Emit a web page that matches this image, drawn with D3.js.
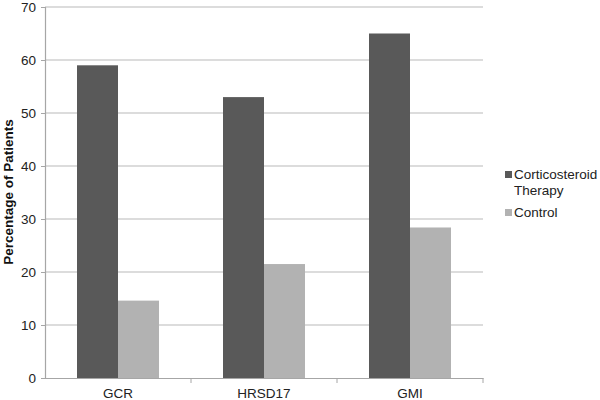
<!DOCTYPE html>
<html><head><meta charset="utf-8">
<script src="https://cdn.jsdelivr.net/npm/d3@7"></script>
<style>body{margin:0;background:#fff}text{font-family:"Liberation Sans",Arial,sans-serif}</style>
</head><body><svg id="c" width="600" height="400"></svg>
<script>
const categories = ["GCR", "HRSD17", "GMI"];
const seriesNames = ["Corticosteroid Therapy", "Control"];
const therapyValues = [59, 53, 65];
const controlValues = [14.6, 21.5, 28.4];
const yTicks = [0, 10, 20, 30, 40, 50, 60, 70];
const colors = ["#595959", "#b2b2b2"];

const svg = d3.select("#c");
const mLeft = 45, mRight = 483, mTop = 7, mBottom = 378;
const fs = 13.5;
const x0 = d3.scaleBand().domain(categories).range([mLeft, mRight]).padding(0);
const x1 = d3.scaleBand().domain([0, 1]).range([32, x0.bandwidth() - 32]).padding(0);
const y = d3.scaleLinear().domain([0, 70]).range([mBottom, mTop]);

// gridlines
svg.append("g").selectAll("line").data(yTicks.slice(1)).join("line")
  .attr("x1", mLeft).attr("x2", mRight)
  .attr("y1", d => y(d)).attr("y2", d => y(d))
  .attr("stroke", "#d0d0d0").attr("stroke-width", 1.3);

const series = [therapyValues, controlValues];
const g = svg.append("g");
categories.forEach((c, i) => {
  series.forEach((vals, s) => {
    g.append("rect")
      .attr("x", x0(c) + x1(s)).attr("width", x1.bandwidth())
      .attr("y", y(vals[i])).attr("height", mBottom - y(vals[i]))
      .attr("fill", colors[s]);
  });
});

// y axis
const ya = svg.append("g").attr("transform", `translate(${mLeft},0)`)
  .call(d3.axisLeft(y).tickValues(yTicks).tickSize(4).tickPadding(5));
ya.select(".domain").attr("stroke", "#a6a6a6").attr("stroke-width", 1.2);
ya.selectAll(".tick line").attr("stroke", "#a6a6a6");
ya.selectAll(".tick text").attr("font-size", fs).attr("fill", "#222")
  .style("font-family", "Liberation Sans, Arial, sans-serif");

// x axis
const xa = svg.append("g").attr("transform", `translate(0,${mBottom})`)
  .call(d3.axisBottom(x0).tickSize(0).tickPadding(10));
xa.select(".domain").attr("stroke", "#a6a6a6").attr("stroke-width", 1.2);
xa.selectAll(".tick text").attr("font-size", fs).attr("fill", "#222")
  .style("font-family", "Liberation Sans, Arial, sans-serif");
// boundary ticks
svg.append("g").selectAll("line").data(categories).join("line")
  .attr("x1", d => x0(d) + x0.bandwidth()).attr("x2", d => x0(d) + x0.bandwidth())
  .attr("y1", mBottom).attr("y2", mBottom + 5)
  .attr("stroke", "#a6a6a6");

// y title
svg.append("text").attr("transform", "translate(13,192) rotate(-90)")
  .attr("text-anchor", "middle").attr("font-size", fs).attr("font-weight", "bold")
  .attr("fill", "#111").text("Percentage of Patients");

// legend
const lg = svg.append("g");
lg.append("rect").attr("x", 505).attr("y", 171).attr("width", 7).attr("height", 7).attr("fill", colors[0]);
lg.append("text").attr("x", 514).attr("y", 179).attr("font-size", fs).attr("fill", "#222").text("Corticosteroid");
lg.append("text").attr("x", 514).attr("y", 195).attr("font-size", fs).attr("fill", "#222").text("Therapy");
lg.append("rect").attr("x", 505).attr("y", 209).attr("width", 7).attr("height", 7).attr("fill", colors[1]);
lg.append("text").attr("x", 514).attr("y", 217).attr("font-size", fs).attr("fill", "#222").text("Control");
</script></body></html>
